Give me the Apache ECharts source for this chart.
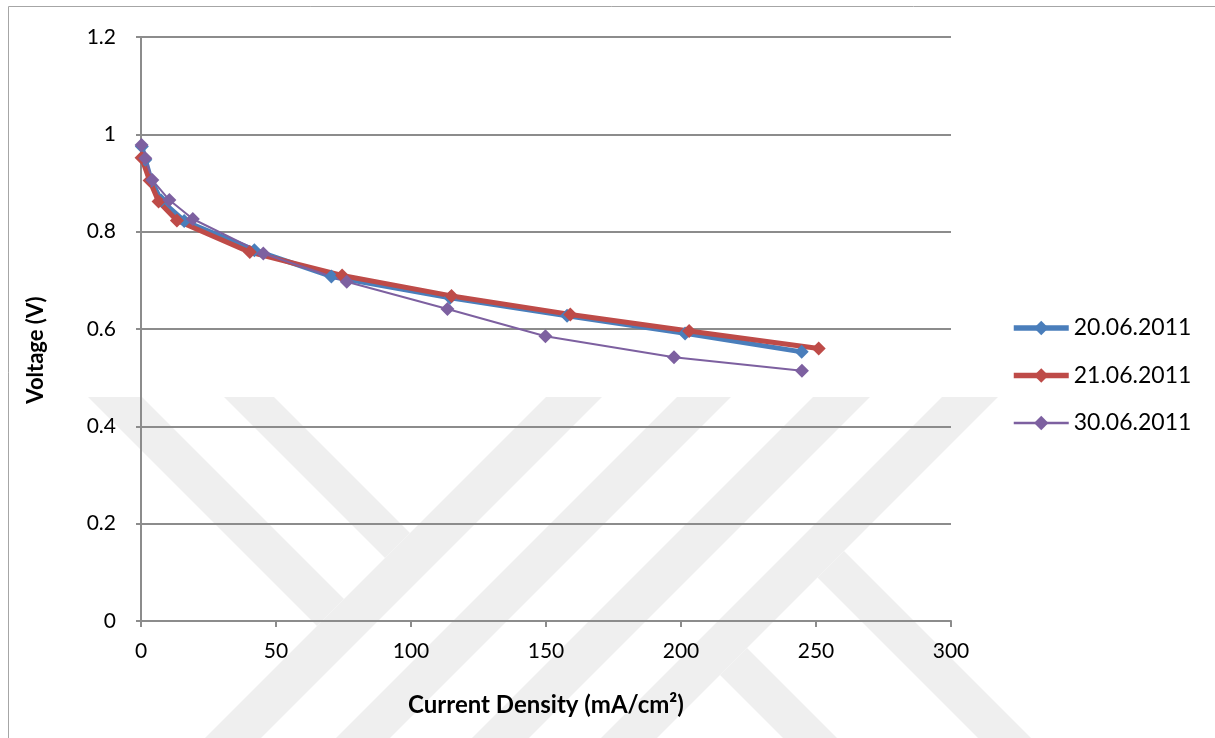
<!DOCTYPE html>
<html>
<head>
<meta charset="utf-8">
<script src="https://cdn.jsdelivr.net/npm/echarts@6/dist/echarts.min.js"></script>
<style>
  html, body { margin: 0; padding: 0; background: #ffffff; }
  #chart { width: 1215px; height: 738px; }
</style>
</head>
<body>
<div id="chart"></div>
<script>
// Polarization curves: current density (mA/cm²) vs cell voltage (V)
const seriesNames = ['20.06.2011', '21.06.2011', '30.06.2011'];

const current_20_06 = [0.3, 1.6, 3.8, 7.5, 16, 42, 70.5, 114.5, 157.8, 201.5, 244.7];
const voltage_20_06 = [0.975, 0.948, 0.905, 0.864, 0.822, 0.762, 0.708, 0.664, 0.627, 0.591, 0.553];

const current_21_06 = [0.2, 3.2, 6.5, 13.3, 40.3, 74.5, 115, 159, 203, 251];
const voltage_21_06 = [0.952, 0.905, 0.862, 0.823, 0.758, 0.710, 0.668, 0.630, 0.596, 0.560];

const current_30_06 = [0.2, 1.6, 4.2, 10.5, 19.2, 45.3, 76.2, 113.5, 149.8, 197.4, 244.8];
const voltage_30_06 = [0.978, 0.951, 0.906, 0.865, 0.826, 0.755, 0.697, 0.641, 0.585, 0.542, 0.514];

const xTicks = { min: 0, max: 300, interval: 50 };
const yTicks = { min: 0, max: 1.2, interval: 0.2 };

const pairs = (xs, ys) => xs.map((x, i) => [x, ys[i]]);

const FONT = 'Lato, "Open Sans", sans-serif';
const AXIS_GREY = '#8c8c8c';
const COLORS = ['#4a7ebb', '#be4b48', '#7d60a0'];
const WIDTHS = [5, 5, 2];

// Light background emblem made of diagonal bands
const bandFill = '#efefef';
const bands = [
  [[546, 397], [602, 397], [261, 738], [205, 738]],
  [[677, 397], [731, 397], [390, 738], [336, 738]],
  [[813, 397], [870, 397], [529, 738], [472, 738]],
  [[942, 397], [998, 397], [657, 738], [601, 738]],
  [[88, 397], [142, 397], [344, 599], [317, 626]],
  [[224, 397], [274, 397], [410, 533], [385, 558]],
  [[817.5, 577.5], [844, 551], [1031, 738], [978, 738]],
  [[720, 675], [747, 648], [837, 738], [783, 738]]
];

const chart = echarts.init(document.getElementById('chart'), null, { renderer: 'canvas' });

function lineSeries(i, xs, ys) {
  return {
    name: seriesNames[i],
    type: 'line',
    data: pairs(xs, ys),
    symbol: 'diamond',
    symbolSize: 14,
    showAllSymbol: true,
    lineStyle: { color: COLORS[i], width: WIDTHS[i] },
    itemStyle: { color: COLORS[i] },
    emphasis: { disabled: true },
    animation: false,
    z: 3
  };
}

chart.setOption({
  backgroundColor: '#ffffff',
  animation: false,
  textStyle: { fontFamily: FONT },
  graphic: [
    ...bands.map(pts => ({
      type: 'polygon',
      z: -10,
      silent: true,
      shape: { points: pts },
      style: { fill: bandFill }
    })),
    {
      type: 'polyline',
      z: -5,
      silent: true,
      shape: { points: [[8.5, 738], [8.5, 6.5], [1215, 6.5]] },
      style: { stroke: '#a6a6a6', lineWidth: 1, fill: null }
    },
    {
      type: 'text',
      x: 36,
      y: 350,
      rotation: Math.PI / 2,
      silent: true,
      style: {
        text: 'Voltage (V)',
        fontFamily: FONT,
        fontWeight: 'bold',
        fontSize: 22,
        fill: '#000000',
        align: 'center',
        verticalAlign: 'middle'
      }
    }
  ],
  grid: { left: 141, right: 264, top: 37, bottom: 117, containLabel: false },
  legend: {
    orient: 'vertical',
    left: 1011,
    top: 316,
    padding: 0,
    itemWidth: 55,
    itemHeight: 18,
    itemGap: 23.5,
    selectedMode: false,
    data: seriesNames.map((n, i) => ({
      name: n,
      lineStyle: { width: WIDTHS[i] + 0.5, color: COLORS[i] }
    })),
    textStyle: { fontFamily: FONT, fontSize: 23, color: '#000000', lineHeight: 24 }
  },
  xAxis: {
    type: 'value',
    min: xTicks.min,
    max: xTicks.max,
    interval: xTicks.interval,
    name: 'Current Density (mA/cm²)',
    nameLocation: 'middle',
    nameGap: 72,
    nameTextStyle: { fontFamily: FONT, fontWeight: 'bold', fontSize: 24, color: '#000000' },
    axisLine: { show: true, onZero: false, lineStyle: { color: AXIS_GREY, width: 2 } },
    axisTick: { show: true, length: 6, lineStyle: { color: AXIS_GREY, width: 2 } },
    axisLabel: { fontFamily: FONT, fontSize: 21, color: '#000000', margin: 20 },
    splitLine: { show: false }
  },
  yAxis: {
    type: 'value',
    min: yTicks.min,
    max: yTicks.max,
    interval: yTicks.interval,
    axisLine: { show: true, lineStyle: { color: AXIS_GREY, width: 2 } },
    axisTick: { show: true, length: 5, lineStyle: { color: AXIS_GREY, width: 2 } },
    axisLabel: { fontFamily: FONT, fontSize: 21, color: '#000000', margin: 25 },
    splitLine: { show: true, lineStyle: { color: AXIS_GREY, width: 2 } }
  },
  series: [
    lineSeries(0, current_20_06, voltage_20_06),
    lineSeries(1, current_21_06, voltage_21_06),
    lineSeries(2, current_30_06, voltage_30_06)
  ]
});
</script>
</body>
</html>
